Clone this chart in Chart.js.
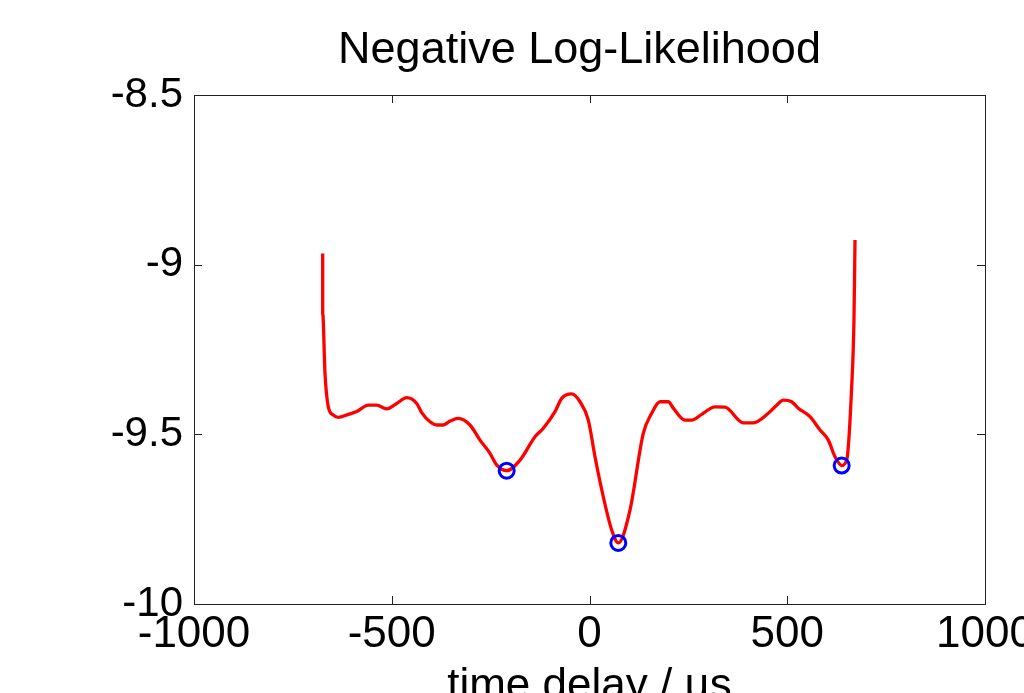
<!DOCTYPE html>
<html lang="en">
<head>
  <meta charset="UTF-8" />
  <title>Negative Log-Likelihood</title>
  <script src="https://cdn.jsdelivr.net/npm/chart.js"></script>
  <style>
    html, body { margin: 0; padding: 0; background: #fff; }
    #wrap { width: 1024px; height: 693px; }
  </style>
</head>
<body>
  <div id="wrap"><canvas id="nll"></canvas></div>

  <script>
    // values (time delay in us, NLL)
    const delay = [-674.6, -674.6, -668.8, -660.4, -647.8, -635.2, -609.9, -588.6, -559.3, -538.1,
      -512.8, -487.5, -462.2, -436.9, -424.3, -403.3, -386.4, -369.7, -352.7, -331.7,
      -302.2, -276.9, -251.6, -234.7, -209.4, -175.7, -137.8, -116.8, -87.2, -70.3,
      -45, -24, -3, 13.9, 34.9, 56.1, 72.8, 102.4, 136, 157.2,
      178.2, 199.2, 211.9, 241.4, 258.4, 283.7, 317.3, 342.6, 388.8, 414.1,
      452.1, 473.3, 490, 511.2, 527.9, 557.5, 582.8, 603.8, 620.7, 637.6,
      650.3, 662.9, 668.7, 671.3];
    const nll = [-8.967, -9.143, -9.320, -9.419, -9.443, -9.450, -9.441, -9.433, -9.414, -9.414,
      -9.425, -9.409, -9.392, -9.409, -9.436, -9.463, -9.4725, -9.4725, -9.461, -9.453,
      -9.4725, -9.517, -9.556, -9.590, -9.607, -9.576, -9.507, -9.482, -9.433, -9.394,
      -9.381, -9.404, -9.458, -9.566, -9.684, -9.782, -9.820, -9.723, -9.497, -9.438,
      -9.404, -9.404, -9.423, -9.458, -9.458, -9.441, -9.419, -9.420, -9.466, -9.466,
      -9.438, -9.414, -9.399, -9.404, -9.423, -9.448, -9.487, -9.517, -9.566, -9.592,
      -9.576, -9.360, -9.163, -8.927];

    // local minima marked with circles
    const minDelay = [-209.4, 72.8, 637.6];
    const minNll = [-9.607, -9.820, -9.592];

    const xTicks = [-1000, -500, 0, 500, 1000];
    const xTickLabels = ['-1000', '-500', '0', '500', '1000'];
    const yTicks = [-10, -9.5, -9, -8.5];
    const yTickLabels = ['-10', '-9.5', '-9', '-8.5'];

    const FONT = "'Liberation Sans', Arial, sans-serif";

    // title + box with inward tick marks (MATLAB look)
    const frame = {
      id: 'frame',
      afterDraw(chart) {
        const { ctx, chartArea: a, scales: { x, y } } = chart;
        ctx.save();
        ctx.strokeStyle = '#222';
        ctx.lineWidth = 1;
        ctx.strokeRect(a.left + 0.5, a.top + 0.5, a.width, a.height);
        ctx.beginPath();
        xTicks.forEach(v => {
          const px = Math.round(x.getPixelForValue(v)) + 0.5;
          ctx.moveTo(px, a.bottom); ctx.lineTo(px, a.bottom - 8);
          ctx.moveTo(px, a.top); ctx.lineTo(px, a.top + 8);
        });
        yTicks.forEach(v => {
          const py = Math.round(y.getPixelForValue(v)) + 0.5;
          ctx.moveTo(a.left, py); ctx.lineTo(a.left + 8, py);
          ctx.moveTo(a.right, py); ctx.lineTo(a.right - 8, py);
        });
        ctx.stroke();

        ctx.fillStyle = '#000';
        ctx.font = '45px ' + FONT;
        ctx.textAlign = 'center';
        ctx.textBaseline = 'alphabetic';
        ctx.fillText('Negative Log-Likelihood', (a.left + a.right) / 2 - 10, 63);
        ctx.restore();
      }
    };

    new Chart(document.getElementById('nll'), {
      type: 'scatter',
      data: {
        datasets: [
          {
            data: minDelay.map((d, i) => ({ x: d, y: minNll[i] })),
            showLine: false,
            pointRadius: 7.5,
            pointBorderWidth: 3,
            pointBorderColor: '#0000ff',
            pointBackgroundColor: 'rgba(0,0,0,0)',
          },
          {
            data: delay.map((d, i) => ({ x: d, y: nll[i] })),
            showLine: true,
            borderColor: '#ff0000',
            borderWidth: 3.3,
            pointRadius: 0,
            cubicInterpolationMode: 'monotone',
          },
        ],
      },
      options: {
        responsive: true,
        maintainAspectRatio: false,
        animation: false,
        events: [],
        layout: { padding: { top: 95, right: 39, left: 0, bottom: 0 } },
        plugins: { legend: { display: false }, tooltip: { enabled: false } },
        scales: {
          x: {
            type: 'linear',
            min: -1000, max: 1000,
            grid: { display: false, drawTicks: false },
            border: { display: false },
            afterBuildTicks: s => { s.ticks = xTicks.map(v => ({ value: v })); },
            afterFit: s => { s.height = 89; s.paddingLeft = 0; s.paddingRight = 0; },
            ticks: {
              autoSkip: false, maxRotation: 0, padding: 4,
              color: '#000', font: { family: FONT, size: 44 },
              callback: (v, i) => xTickLabels[i],
            },
            title: {
              display: true, text: 'time delay / µs', color: '#000',
              font: { family: FONT, size: 44 }, padding: { top: 0, bottom: -20 },
            },
          },
          y: {
            type: 'linear',
            min: -10, max: -8.5,
            grid: { display: false, drawTicks: false },
            border: { display: false },
            afterBuildTicks: s => { s.ticks = yTicks.map(v => ({ value: v })); },
            afterFit: s => { s.width = 194; },
            ticks: {
              padding: 11,
              color: '#000', font: { family: FONT, size: 42 },
              callback: (v, i) => yTickLabels[i],
            },
          },
        },
      },
      plugins: [frame],
    });
  </script>
</body>
</html>
